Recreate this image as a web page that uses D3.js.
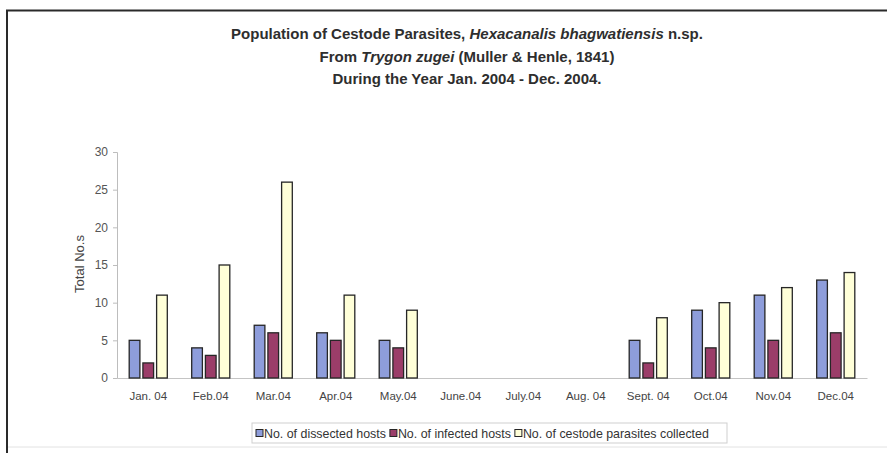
<!DOCTYPE html>
<html>
<head>
<meta charset="utf-8">
<script src="https://cdn.jsdelivr.net/npm/d3@7"></script>
<style>
  html, body { margin: 0; padding: 0; background: #fff; }
  svg { display: block; font-family: "Liberation Sans", Arial, sans-serif; }
</style>
</head>
<body>
<svg id="chart" width="887" height="453"></svg>
<script>
// Monthly counts, Jan. 2004 – Dec. 2004
const months = ["Jan. 04", "Feb.04", "Mar.04", "Apr.04", "May.04", "June.04",
                "July.04", "Aug. 04", "Sept. 04", "Oct.04", "Nov.04", "Dec.04"];
const dissectedHosts = [5, 4, 7, 6, 5, 0, 0, 0, 5, 9, 11, 13];
const infectedHosts  = [2, 3, 6, 5, 4, 0, 0, 0, 2, 4, 5, 6];
const parasitesCollected = [11, 15, 26, 11, 9, 0, 0, 0, 8, 10, 12, 14];
const seriesNames = ["No. of dissected hosts", "No. of infected hosts", "No. of cestode parasites collected"];
const yTicks = [0, 5, 10, 15, 20, 25, 30];

const seriesValues = [dissectedHosts, infectedHosts, parasitesCollected];
const colors = ["#8e9ddb", "#9b3d69", "#ffffd8"];

const svg = d3.select("#chart");

// page frame
svg.append("line").attr("x1", 6).attr("x2", 887).attr("y1", 10.5).attr("y2", 10.5)
  .attr("stroke", "#2a2a2a").attr("stroke-width", 2);
svg.append("line").attr("x1", 7).attr("x2", 7).attr("y1", 10).attr("y2", 453)
  .attr("stroke", "#2a2a2a").attr("stroke-width", 2);
svg.append("line").attr("x1", 8).attr("x2", 887).attr("y1", 447).attr("y2", 447)
  .attr("stroke", "#e2e2e2").attr("stroke-width", 1);

// title
const title = svg.append("g").attr("fill", "#2e2e2e").attr("font-weight", "bold")
  .attr("font-size", 15).attr("text-anchor", "middle");
const t1 = title.append("text").attr("x", 467).attr("y", 39);
t1.append("tspan").text("Population of Cestode Parasites, ");
t1.append("tspan").attr("font-style", "italic").text("Hexacanalis bhagwatiensis");
t1.append("tspan").text(" n.sp.");
const t2 = title.append("text").attr("x", 467).attr("y", 62);
t2.append("tspan").text("From ");
t2.append("tspan").attr("font-style", "italic").text("Trygon zugei");
t2.append("tspan").text(" (Muller & Henle, 1841)");
title.append("text").attr("x", 467).attr("y", 84).text("During the Year Jan. 2004 - Dec. 2004.");

// scales
const plot = { left: 117, right: 867, top: 152, bottom: 378 };
const x0 = d3.scaleBand().domain(months).range([plot.left, plot.right]);
const x1 = d3.scaleBand().domain(d3.range(seriesValues.length))
  .range([12.2, 50.3]).paddingInner(0.22);
const y = d3.scaleLinear().domain([0, 30]).range([plot.bottom, plot.top]);

// y axis
const yAxis = svg.append("g").attr("transform", `translate(${plot.left},0)`)
  .call(d3.axisLeft(y).tickValues(yTicks).tickSize(4).tickPadding(5));
yAxis.select(".domain").attr("stroke", "#bdbdbd");
yAxis.selectAll(".tick line").attr("stroke", "#bdbdbd");
yAxis.selectAll(".tick text").attr("font-size", 12).attr("fill", "#555")
  .attr("font-family", "'Liberation Sans', Arial, sans-serif");

svg.append("text")
  .attr("transform", `translate(84,264) rotate(-90)`)
  .attr("text-anchor", "middle").attr("font-size", 13).attr("fill", "#444")
  .text("Total No.s");

// x axis
const xAxis = svg.append("g").attr("transform", `translate(0,${plot.bottom})`)
  .call(d3.axisBottom(x0).tickSize(0).tickPadding(14).tickSizeOuter(0));
xAxis.select(".domain").attr("stroke", "#c4c4c4");
xAxis.selectAll(".tick text").attr("font-size", 11.5).attr("fill", "#444")
  .attr("font-family", "'Liberation Sans', Arial, sans-serif");

// bars
const groups = svg.append("g").selectAll("g").data(months).join("g")
  .attr("transform", d => `translate(${x0(d)},0)`);
groups.selectAll("rect")
  .data((m, i) => seriesValues.map((vals, s) => ({ s, v: vals[i] })).filter(d => d.v > 0))
  .join("rect")
  .attr("x", d => x1(d.s))
  .attr("width", x1.bandwidth())
  .attr("y", d => y(d.v))
  .attr("height", d => y(0) - y(d.v))
  .attr("fill", d => colors[d.s])
  .attr("stroke", "#262626")
  .attr("stroke-width", 1.3);

// legend
const legend = svg.append("g");
legend.append("rect").attr("x", 252).attr("y", 423).attr("width", 475).attr("height", 20)
  .attr("fill", "#fff").attr("stroke", "#cfcfcf");
let lx = 256;
seriesNames.forEach((name, i) => {
  legend.append("rect").attr("x", lx).attr("y", 429.5).attr("width", 7).attr("height", 7)
    .attr("fill", colors[i]).attr("stroke", "#262626").attr("stroke-width", 1);
  const t = legend.append("text").attr("x", lx + 8).attr("y", 437.5)
    .attr("font-size", 12.4).attr("fill", "#333").text(name);
  lx += 8 + t.node().getComputedTextLength() + 4;
});
</script>
</body>
</html>
